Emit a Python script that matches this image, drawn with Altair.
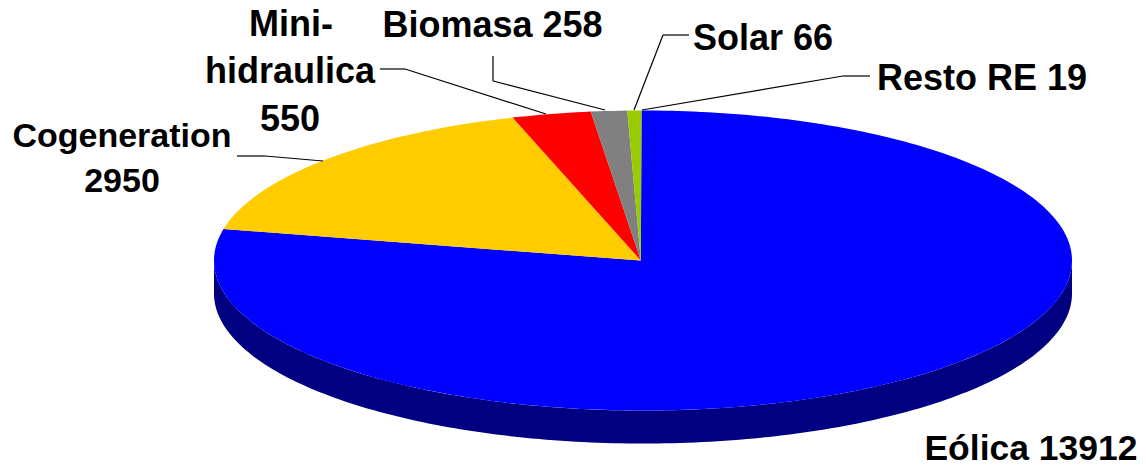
import math
import altair as alt
import pandas as pd

slices = ["Eólica", "Cogeneration", "Mini-hidráulica", "Biomasa", "Solar"]
sweep_deg = [282.3, 60.2, 10.7, 4.9, 1.9]
colors = ["#0000FF", "#FFCC00", "#FF0000", "#808080", "#99CC00"]
side_color = "#000080"
depth = 33 / 150

W, H = 1130, 457
CX, CY, RX, RY = 643, 260.5, 429, 150
x_dom = [(8 - CX) / RX, (8 + W - CX) / RX]
y_dom = [(CY - 8 - H) / RY, (CY - 8) / RY]
xs = alt.Scale(domain=x_dom, range=[0, W], nice=False, zero=False)
ys = alt.Scale(domain=y_dom, range=[H, 0], nice=False, zero=False)

rows = []
t0 = -0.2
for name, sw in zip(slices, sweep_deg):
    n = max(2, int(sw) + 1)
    rows.append(dict(s=name, o=0, x=-0.005, y=0.0))
    for i in range(n + 1):
        t = math.radians(t0 + sw * i / n)
        rows.append(dict(s=name, o=i + 1, x=math.sin(t), y=math.cos(t)))
    t0 += sw
df = pd.DataFrame(rows)

side = []
for i in range(181):
    t = math.radians(90 + i)
    side.append(dict(o=i, x=math.sin(t), y=math.cos(t)))
for i in range(181):
    t = math.radians(270 - i)
    side.append(dict(o=181 + i, x=math.sin(t), y=math.cos(t) - depth))
sdf = pd.DataFrame(side)

X = alt.X("x:Q", scale=xs, axis=None)
Y = alt.Y("y:Q", scale=ys, axis=None)

side_layer = alt.Chart(sdf).mark_line(filled=True, color=side_color, strokeWidth=0.5).encode(
    x=X, y=Y, order="o:Q")
pie_layer = alt.Chart(df).mark_line(filled=True, strokeWidth=0.5).encode(
    x=X, y=Y, order="o:Q",
    color=alt.Color("s:N", scale=alt.Scale(domain=slices, range=colors), legend=None))

labels = [
    ("Mini-", 291, 36, 36), ("hidraulica", 290, 83, 36), ("550", 290, 131, 36),
    ("Cogeneration", 122, 147, 34), ("2950", 122, 192, 34),
    ("Biomasa 258", 492.5, 37, 36), ("Solar 66", 763, 50, 36),
    ("Resto RE 19", 982, 90, 36), ("Eólica 13912", 1031, 460, 35.5),
]
leaders = [
    (237, 156, 265, 156), (265, 156, 323, 161),
    (380, 69, 405, 69), (405, 69, 546, 114),
    (493, 56, 493, 81), (493, 81, 605, 110),
    (689, 35, 663, 35), (663, 35, 634, 110),
    (642, 110, 843, 76), (843, 76, 870, 76),
]

layers = [side_layer, pie_layer]
for (a, b, c, d) in leaders:
    layers.append(alt.Chart(alt.Data(values=[{}])).mark_rule(color="black", strokeWidth=1.2).encode(
        x=alt.value(a - 8), y=alt.value(b - 8), x2=alt.value(c - 8), y2=alt.value(d - 8)))
for (txt, px, py, fs) in labels:
    layers.append(alt.Chart(alt.Data(values=[{}])).mark_text(
        font="Liberation Sans", fontWeight="bold", fontSize=fs, color="black",
        align="center", baseline="alphabetic").encode(
        x=alt.value(px - 8), y=alt.value(py - 8), text=alt.value(txt)))

chart = alt.layer(*layers).properties(
    width=W, height=H, padding=0,
    autosize=alt.AutoSizeParams(type="none"),
).configure_view(stroke=None)

chart.save("out.html", embed_options={"renderer": "svg", "actions": False})
